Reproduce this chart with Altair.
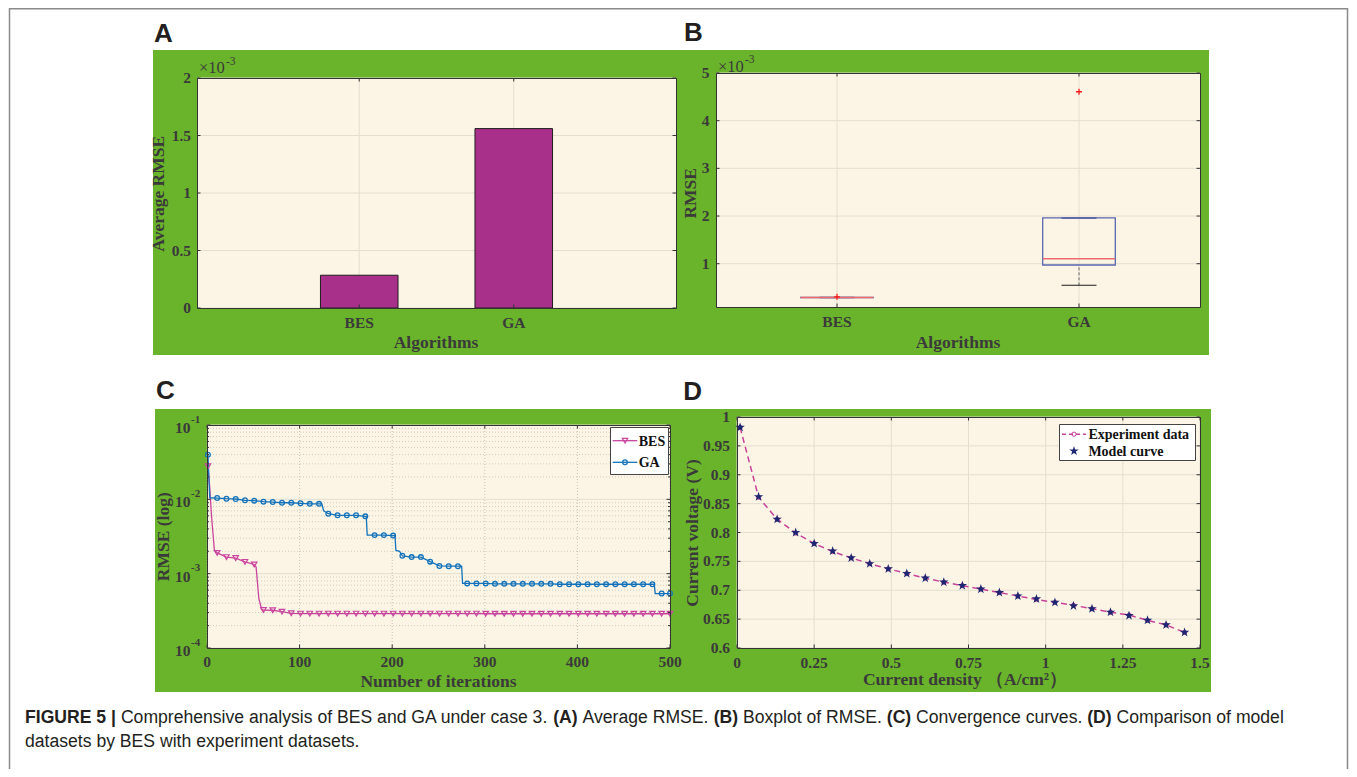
import altair as alt
import pandas as pd

# ---------------- data ----------------
algorithms = ["BES", "GA"]
average_rmse = [0.000285, 0.00156]

box_q1 = [0.000289, 0.000973]
box_median = [0.000290, 0.001105]
box_q3 = [0.000291, 0.001960]
whisker_low = [0.000289, 0.000546]
whisker_high = [0.000291, 0.001960]
outlier_algorithm = ["BES", "GA"]
outlier_rmse = [0.000305, 0.004607]

marker_iterations = [1, 11, 21, 31, 41, 51, 61, 71, 81, 91,
                     101, 111, 121, 131, 141, 151, 161, 171, 181, 191,
                     201, 211, 221, 231, 241, 251, 261, 271, 281, 291,
                     301, 311, 321, 331, 341, 351, 361, 371, 381, 391,
                     401, 411, 421, 431, 441, 451, 461, 471, 481, 491, 500]
ga_marker_rmse = [0.0398, 0.0104, 0.0102, 0.0101, 0.0097, 0.0096, 0.0093, 0.0092, 0.0090, 0.0090,
                  0.00885, 0.0087, 0.0087, 0.0064, 0.0061, 0.0061, 0.0061, 0.0059, 0.0033, 0.0033,
                  0.00325, 0.00174, 0.00167, 0.00167, 0.00145, 0.00127, 0.00126, 0.00126, 0.00074, 0.00074,
                  0.00074, 0.00073, 0.00073, 0.00073, 0.00073, 0.00073, 0.00073, 0.00073, 0.00072, 0.00072,
                  0.00072, 0.00072, 0.00072, 0.00072, 0.00072, 0.00072, 0.00072, 0.00072, 0.00072, 0.00054, 0.00054]
bes_marker_rmse = [0.0278, 0.0019, 0.00167, 0.00162, 0.00144, 0.00133, 0.000324, 0.000322, 0.000308, 0.000293,
                   0.00029, 0.00029, 0.00029, 0.00029, 0.00029, 0.00029, 0.00029, 0.00029, 0.00029, 0.00029,
                   0.00029, 0.00029, 0.00029, 0.00029, 0.00029, 0.00029, 0.00029, 0.00029, 0.00029, 0.00029,
                   0.000289, 0.000289, 0.000289, 0.000289, 0.000289, 0.000289, 0.000289, 0.000289, 0.000289, 0.000289,
                   0.000289, 0.000289, 0.000289, 0.000289, 0.000289, 0.000289, 0.000289, 0.000289, 0.000289, 0.000289,
                   0.000289]
ga_step_iterations = [3, 124, 126, 172, 173, 203, 204, 208, 275, 276, 483, 484]
ga_step_rmse = [0.0105, 0.0087, 0.0070, 0.0059, 0.0033, 0.00325, 0.00205, 0.0020, 0.00126, 0.00074, 0.00072, 0.00054]
bes_step_iterations = [3, 5, 8, 53, 56, 59]
bes_step_rmse = [0.0143, 0.0057, 0.00205, 0.00123, 0.00046, 0.00033]

current_density = [0.01, 0.07, 0.13, 0.19, 0.25, 0.31, 0.37, 0.43, 0.49, 0.55, 0.61, 0.67, 0.73,
                   0.79, 0.85, 0.91, 0.97, 1.03, 1.09, 1.15, 1.21, 1.27, 1.33, 1.39, 1.45]
experiment_voltage = [0.982, 0.861, 0.823, 0.799, 0.781, 0.767, 0.756, 0.746, 0.737, 0.729, 0.721, 0.714, 0.708,
                      0.702, 0.696, 0.690, 0.684, 0.679, 0.674, 0.668, 0.662, 0.657, 0.648, 0.640, 0.627]
model_voltage = [0.982, 0.862, 0.823, 0.800, 0.781, 0.768, 0.756, 0.746, 0.737, 0.729, 0.721, 0.714, 0.708,
                 0.702, 0.696, 0.690, 0.685, 0.679, 0.673, 0.668, 0.662, 0.656, 0.648, 0.640, 0.627]

# tick values and tick labels
a_y_ticks = [0, 0.0005, 0.001, 0.0015, 0.002]
a_y_labels = ["0", "0.5", "1", "1.5", "2"]
b_y_ticks = [0.001, 0.002, 0.003, 0.004, 0.005]
b_y_labels = ["1", "2", "3", "4", "5"]
c_x_ticks = [0, 100, 200, 300, 400, 500]
c_x_labels = ["0", "100", "200", "300", "400", "500"]
c_y_major = [0.0001, 0.001, 0.01, 0.1]
c_y_exponent = ["-4", "-3", "-2", "-1"]
c_y_minor = [0.0002, 0.0003, 0.0004, 0.0005, 0.0006, 0.0007, 0.0008, 0.0009,
             0.002, 0.003, 0.004, 0.005, 0.006, 0.007, 0.008, 0.009,
             0.02, 0.03, 0.04, 0.05, 0.06, 0.07, 0.08, 0.09]
d_x_ticks = [0, 0.25, 0.5, 0.75, 1, 1.25, 1.5]
d_x_labels = ["0", "0.25", "0.5", "0.75", "1", "1.25", "1.5"]
d_y_ticks = [0.6, 0.65, 0.7, 0.75, 0.8, 0.85, 0.9, 0.95, 1.0]
d_y_labels = ["0.6", "0.65", "0.7", "0.75", "0.8", "0.85", "0.9", "0.95", "1"]

caption_line1 = [("FIGURE 5 |", True), (" Comprehensive analysis of BES and GA under case 3. ", False),
                 ("(A)", True), (" Average RMSE. ", False), ("(B)", True), (" Boxplot of RMSE. ", False),
                 ("(C)", True), (" Convergence curves. ", False), ("(D)", True), (" Comparison of model", False)]
caption_line2 = [("datasets by BES with experiment datasets.", False)]

# ---------------- style / layout ----------------
W, H = 1341, 761
GREEN = "#6ab42b"
CREAM = "#fcf5e5"
GRID = "#e4ded0"
GRID_DOT = "#c9c2b2"
FRAME = "#333333"
AX = "#3a3a3a"
BAR = "#a8308a"
GA_C = "#1272bb"
BES_C = "#c9449e"
EXP_C = "#c8429a"
MODEL_C = "#1d2670"
BOX_C = "#5866b0"
MED_C = "#eb6c6e"
OUT_C = "#ff1a1a"
SERIF = "Liberation Serif"
SANS = "Liberation Sans"
STAR = "M0,-1L0.2245,-0.309L0.951,-0.309L0.363,0.118L0.588,0.809L0,0.382L-0.588,0.809L-0.363,0.118L-0.951,-0.309L-0.2245,-0.309Z"
PLUS = "M-1,0L1,0M0,-1L0,1"
LBL = 15.5
TTL = 17.5

PA = (189, 668, 70, 300)    # x0, x1, ytop, ybottom (canvas px)
PB = (708, 1192, 65, 299)
PC = (199, 662, 417, 640)
PD = (729, 1192, 409, 640)

ONE = pd.DataFrame({"k": [0]})


def rect(x0, y0, x1, y1, **kw):
    return alt.Chart(ONE).mark_rect(**kw).encode(
        x=alt.value(x0), x2=alt.value(x1), y=alt.value(y0), y2=alt.value(y1))


def hrule(x0, x1, y, **kw):
    return alt.Chart(ONE).mark_rule(**kw).encode(x=alt.value(x0), x2=alt.value(x1), y=alt.value(y))


def vrule(x, y0, y1, **kw):
    return alt.Chart(ONE).mark_rule(**kw).encode(x=alt.value(x), y=alt.value(y0), y2=alt.value(y1))


def text(s, x, y, size, bold=False, font=SANS, color="#231f20", align="left", baseline="alphabetic", angle=0):
    return alt.Chart(ONE).mark_text(
        text=s, font=font, fontSize=size, fontWeight="bold" if bold else "normal",
        color=color, align=align, baseline=baseline, angle=angle).encode(x=alt.value(x), y=alt.value(y))


def title_x(s, cx, cy):
    return text(s, cx, cy, TTL, bold=True, font=SERIF, color=AX, align="center", baseline="middle")


def title_y(s, cx, cy):
    return text(s, cx, cy, TTL, bold=True, font=SERIF, color=AX, align="center", baseline="middle", angle=270)


def symbol(x, y, shape, size, color, filled, sw=1.2):
    return alt.Chart(ONE).mark_point(shape=shape, size=size, color=color, filled=filled,
                                     strokeWidth=sw, opacity=1).encode(x=alt.value(x), y=alt.value(y))


def xlabels(df, field, scale, y):
    return alt.Chart(df).mark_text(align="center", baseline="alphabetic", font=SERIF, fontWeight="bold",
                                   fontSize=LBL, color=AX).encode(
        x=alt.X(field, scale=scale, axis=None), y=alt.value(y), text="lab:N")


def ylabels(df, field, scale, x):
    return alt.Chart(df).mark_text(align="right", baseline="middle", font=SERIF, fontWeight="bold",
                                   fontSize=LBL, color=AX).encode(
        y=alt.Y(field, scale=scale, axis=None), x=alt.value(x), text="lab:N")


def ticks_x(df, field, scale, P, n=3.5, **kw):
    base = alt.Chart(df).mark_rule(color=FRAME, strokeWidth=1, **kw)
    return [base.encode(x=alt.X(field, scale=scale, axis=None), y=alt.value(P[3]), y2=alt.value(P[3] - n)),
            base.encode(x=alt.X(field, scale=scale, axis=None), y=alt.value(P[2]), y2=alt.value(P[2] + n))]


def ticks_y(df, field, scale, P, n=3.5, **kw):
    base = alt.Chart(df).mark_rule(color=FRAME, strokeWidth=1, **kw)
    return [base.encode(y=alt.Y(field, scale=scale, axis=None), x=alt.value(P[0]), x2=alt.value(P[0] + n)),
            base.encode(y=alt.Y(field, scale=scale, axis=None), x=alt.value(P[1]), x2=alt.value(P[1] - n))]


# ---------------- panel A ----------------
dfA = pd.DataFrame({"algorithm": algorithms, "rmse": average_rmse, "lab": algorithms})
dfA_t = pd.DataFrame({"v": a_y_ticks, "lab": a_y_labels})
xA = alt.Scale(type="band", domain=algorithms, range=[PA[0], PA[1]], paddingInner=0.498, paddingOuter=0.799)
yA = alt.Scale(type="linear", domain=[0, 0.002], range=[PA[3], PA[2]], nice=False, zero=False)
panelA = alt.layer(
    alt.Chart(dfA_t).mark_rule(color=GRID).encode(
        y=alt.Y("v:Q", scale=yA, axis=None), x=alt.value(PA[0]), x2=alt.value(PA[1])),
    alt.Chart(dfA).mark_rule(color=GRID).encode(
        x=alt.X("algorithm:N", scale=xA, axis=None), y=alt.value(PA[2]), y2=alt.value(PA[3])),
    alt.Chart(dfA).mark_bar(color=BAR, stroke="#1e1e1e", strokeWidth=1).encode(
        x=alt.X("algorithm:N", scale=xA, axis=None),
        y=alt.Y("rmse:Q", scale=yA, axis=None)),
    *ticks_x(dfA, "algorithm:N", xA, PA),
    *ticks_y(dfA_t, "v:Q", yA, PA),
    xlabels(dfA, "algorithm:N", xA, PA[3] + 20.4),
    ylabels(dfA_t, "v:Q", yA, PA[0] - 6),
)

# ---------------- panel B ----------------
dfB = pd.DataFrame({"algorithm": algorithms, "q1": box_q1, "median": box_median, "q3": box_q3,
                    "low": whisker_low, "high": whisker_high, "lab": algorithms})
dfB_out = pd.DataFrame({"algorithm": outlier_algorithm, "rmse": outlier_rmse})
dfB_t = pd.DataFrame({"v": b_y_ticks, "lab": b_y_labels})
xB = alt.Scale(type="band", domain=algorithms, range=[PB[0], PB[1]], paddingInner=0.7, paddingOuter=0.35)
yB = alt.Scale(type="linear", domain=[0.000092, 0.005], range=[PB[3], PB[2]], nice=False, zero=False)
xBf = alt.X("algorithm:N", scale=xB, axis=None)
panelB = alt.layer(
    alt.Chart(dfB_t).mark_rule(color=GRID).encode(
        y=alt.Y("v:Q", scale=yB, axis=None), x=alt.value(PB[0]), x2=alt.value(PB[1])),
    alt.Chart(dfB).mark_rule(color=GRID).encode(x=xBf, y=alt.value(PB[2]), y2=alt.value(PB[3])),
    alt.Chart(dfB).mark_rule(color="#666666", strokeDash=[3, 2], strokeWidth=1).encode(
        x=xBf, y=alt.Y("low:Q", scale=yB, axis=None), y2="q1:Q"),
    alt.Chart(dfB).mark_rule(color="#666666", strokeDash=[3, 2], strokeWidth=1).encode(
        x=xBf, y=alt.Y("q3:Q", scale=yB, axis=None), y2="high:Q"),
    alt.Chart(dfB).mark_tick(color="#1a1a1a", thickness=1, size=35, opacity=1).encode(
        x=xBf, y=alt.Y("low:Q", scale=yB, axis=None)),
    alt.Chart(dfB).mark_tick(color="#3a4a8c", thickness=1.5, size=35, opacity=1).encode(
        x=xBf, y=alt.Y("high:Q", scale=yB, axis=None)),
    alt.Chart(dfB).mark_rect(filled=False, color=BOX_C, strokeWidth=1.3).encode(
        x=xBf, y=alt.Y("q1:Q", scale=yB, axis=None), y2="q3:Q"),
    alt.Chart(dfB).mark_rect(filled=False, color=MED_C, strokeWidth=1.6).encode(
        x=xBf, y=alt.Y("median:Q", scale=yB, axis=None), y2="median:Q"),
    alt.Chart(dfB_out).mark_point(shape=PLUS, size=36, filled=False, color=OUT_C, strokeWidth=1.3,
                                  opacity=1).encode(
        x=xBf, y=alt.Y("rmse:Q", scale=yB, axis=None)),
    *ticks_x(dfB, "algorithm:N", xB, PB),
    *ticks_y(dfB_t, "v:Q", yB, PB),
    xlabels(dfB, "algorithm:N", xB, PB[3] + 20.4),
    ylabels(dfB_t, "v:Q", yB, PB[0] - 6.5),
)

# ---------------- panel C ----------------
ga_line = sorted(zip(marker_iterations + ga_step_iterations, ga_marker_rmse + ga_step_rmse))
bes_line = sorted(zip(marker_iterations + bes_step_iterations, bes_marker_rmse + bes_step_rmse))
dfC_ga_line = pd.DataFrame(ga_line, columns=["iteration", "rmse"])
dfC_bes_line = pd.DataFrame(bes_line, columns=["iteration", "rmse"])
dfC_ga = pd.DataFrame({"iteration": marker_iterations, "rmse": ga_marker_rmse})
dfC_bes = pd.DataFrame({"iteration": marker_iterations, "rmse": bes_marker_rmse})
dfC_xt = pd.DataFrame({"v": c_x_ticks, "lab": c_x_labels})
dfC_ym = pd.DataFrame({"v": c_y_major, "e": c_y_exponent})
dfC_yn = pd.DataFrame({"v": c_y_minor})
xC = alt.Scale(type="linear", domain=[0, 500], range=[PC[0], PC[1]], nice=False, zero=False)
yC = alt.Scale(type="log", domain=[0.0001, 0.1], range=[PC[3], PC[2]], nice=False)
panelC = alt.layer(
    alt.Chart(dfC_yn).mark_rule(color=GRID_DOT, strokeDash=[1, 2], strokeWidth=0.8).encode(
        y=alt.Y("v:Q", scale=yC, axis=None), x=alt.value(PC[0]), x2=alt.value(PC[1])),
    alt.Chart(dfC_ym).mark_rule(color=GRID).encode(
        y=alt.Y("v:Q", scale=yC, axis=None), x=alt.value(PC[0]), x2=alt.value(PC[1])),
    alt.Chart(dfC_xt).mark_rule(color=GRID_DOT, strokeDash=[1, 2]).encode(
        x=alt.X("v:Q", scale=xC, axis=None), y=alt.value(PC[2]), y2=alt.value(PC[3])),
    alt.Chart(dfC_bes_line).mark_line(color=BES_C, strokeWidth=1.3).encode(
        x=alt.X("iteration:Q", scale=xC, axis=None), y=alt.Y("rmse:Q", scale=yC, axis=None)),
    alt.Chart(dfC_ga_line).mark_line(color=GA_C, strokeWidth=1.3).encode(
        x=alt.X("iteration:Q", scale=xC, axis=None), y=alt.Y("rmse:Q", scale=yC, axis=None)),
    alt.Chart(dfC_bes).mark_point(shape="triangle-down", size=30, filled=False, color=BES_C,
                                  strokeWidth=1.2, opacity=1).encode(
        x=alt.X("iteration:Q", scale=xC, axis=None), y=alt.Y("rmse:Q", scale=yC, axis=None)),
    alt.Chart(dfC_ga).mark_point(shape="circle", size=22, filled=False, color=GA_C,
                                 strokeWidth=1.3, opacity=1).encode(
        x=alt.X("iteration:Q", scale=xC, axis=None), y=alt.Y("rmse:Q", scale=yC, axis=None)),
    alt.Chart(dfC_ym).mark_text(text="10", align="right", baseline="middle", dy=3, font=SERIF,
                                fontWeight="bold", fontSize=LBL, color=AX).encode(
        y=alt.Y("v:Q", scale=yC, axis=None), x=alt.value(PC[0] - 16.5)),
    alt.Chart(dfC_ym).mark_text(align="left", baseline="middle", dy=-5.5, font=SERIF,
                                fontWeight="bold", fontSize=11, color=AX).encode(
        y=alt.Y("v:Q", scale=yC, axis=None), x=alt.value(PC[0] - 16), text="e:N"),
    *ticks_x(dfC_xt, "v:Q", xC, PC),
    *ticks_y(dfC_ym, "v:Q", yC, PC),
    *ticks_y(dfC_yn, "v:Q", yC, PC, n=2),
    xlabels(dfC_xt, "v:Q", xC, PC[3] + 19.4),
)

# ---------------- panel D ----------------
dfD = pd.DataFrame({"density": current_density, "experiment": experiment_voltage, "model": model_voltage})
dfD_xt = pd.DataFrame({"v": d_x_ticks, "lab": d_x_labels})
dfD_yt = pd.DataFrame({"v": d_y_ticks, "lab": d_y_labels})
xD = alt.Scale(type="linear", domain=[0, 1.5], range=[PD[0], PD[1]], nice=False, zero=False)
yD = alt.Scale(type="linear", domain=[0.6, 1.0], range=[PD[3], PD[2]], nice=False, zero=False)
panelD = alt.layer(
    alt.Chart(dfD_xt).mark_rule(color=GRID).encode(
        x=alt.X("v:Q", scale=xD, axis=None), y=alt.value(PD[2]), y2=alt.value(PD[3])),
    alt.Chart(dfD_yt).mark_rule(color=GRID).encode(
        y=alt.Y("v:Q", scale=yD, axis=None), x=alt.value(PD[0]), x2=alt.value(PD[1])),
    alt.Chart(dfD).mark_line(color=EXP_C, strokeDash=[6, 4], strokeWidth=1.5).encode(
        x=alt.X("density:Q", scale=xD, axis=None), y=alt.Y("experiment:Q", scale=yD, axis=None)),
    alt.Chart(dfD).mark_point(shape="circle", size=18, filled=False, color=EXP_C, strokeWidth=1,
                              opacity=1).encode(
        x=alt.X("density:Q", scale=xD, axis=None), y=alt.Y("experiment:Q", scale=yD, axis=None)),
    alt.Chart(dfD).mark_point(shape=STAR, size=100, filled=True, color=MODEL_C, opacity=1).encode(
        x=alt.X("density:Q", scale=xD, axis=None), y=alt.Y("model:Q", scale=yD, axis=None)),
    *ticks_x(dfD_xt, "v:Q", xD, PD),
    *ticks_y(dfD_yt, "v:Q", yD, PD),
    xlabels(dfD_xt, "v:Q", xD, PD[3] + 20.4),
    ylabels(dfD_yt, "v:Q", yD, PD[0] - 7),
)

# ---------------- decorations ----------------
background = [
    rect(145, 42, 1201, 347, color=GREEN),
    rect(147, 401, 1203, 684, color=GREEN),
]
for P in (PA, PB, PC, PD):
    background.append(rect(P[0], P[2], P[1], P[3], color=CREAM))

foreground = []
for P in (PA, PB, PC, PD):
    foreground.append(rect(P[0] + 0.5, P[2] + 0.5, P[1] + 0.5, P[3] + 0.5,
                           filled=False, color=FRAME, strokeWidth=1))

# axis titles
foreground += [
    title_y("Average RMSE", 151.3, 185.8), title_x("Algorithms", 428, 335.3),
    title_y("RMSE", 682.7, 185.3), title_x("Algorithms", 950, 334.7),
    title_y("RMSE (log)", 156, 528.7), title_x("Number of iterations", 430.5, 673.7),
    title_y("Current voltage (V)", 684.8, 525), title_x("Current density （A/cm²）", 957, 672),
]

# x10^-3 exponent labels
foreground += [
    text("×10", 191, 65.3, 16.5, font=SERIF, color=AX),
    text("-3", 218, 57, 11.5, font=SERIF, color=AX),
    text("×10", 710, 63.7, 16.5, font=SERIF, color=AX),
    text("-3", 737, 55, 11.5, font=SERIF, color=AX),
]

# legend C
foreground += [
    rect(602.5, 419.5, 660.5, 466.5, color="white", stroke="#444444", strokeWidth=1),
    hrule(604.7, 629.3, 432.7, color=BES_C, strokeWidth=1.3),
    symbol(617, 432.7, "triangle-down", 30, BES_C, False),
    text("BES", 630.7, 437.7, 14, bold=True, font=SERIF, color="#111111"),
    hrule(604.7, 629.3, 454.3, color=GA_C, strokeWidth=1.3),
    symbol(617, 454.3, "circle", 22, GA_C, False, 1.3),
    text("GA", 630.7, 459.3, 14, bold=True, font=SERIF, color="#111111"),
]

# legend D
foreground += [
    rect(1051.5, 416.5, 1187.5, 452.5, color="white", stroke="#444444", strokeWidth=1),
    hrule(1054, 1078, 426.2, color=EXP_C, strokeDash=[4, 3], strokeWidth=1.5),
    symbol(1066, 426.2, "circle", 18, EXP_C, False, 1),
    text("Experiment data", 1080.4, 431.2, 14, bold=True, font=SERIF, color="#111111"),
    symbol(1066, 443, STAR, 100, MODEL_C, True),
    text("Model curve", 1080.4, 448, 14, bold=True, font=SERIF, color="#111111"),
]

# panel letters
foreground += [
    text("A", 146, 33.7, 26, bold=True),
    text("B", 676, 32.7, 26, bold=True),
    text("C", 148, 391, 26, bold=True),
    text("D", 675.3, 392, 26, bold=True),
]

# caption (Arial / Liberation Sans advance widths, per em)
AR = {" ": .278, "a": .556, "b": .556, "c": .5, "d": .556, "e": .556, "f": .278, "g": .556, "h": .556,
      "i": .222, "j": .222, "k": .5, "l": .222, "m": .833, "n": .556, "o": .556, "p": .556, "q": .556,
      "r": .333, "s": .5, "t": .278, "u": .556, "v": .5, "w": .722, "x": .5, "y": .5, "z": .5,
      "A": .667, "B": .667, "C": .722, "D": .722, "E": .667, "G": .778, "M": .833, "R": .722, "S": .667,
      ".": .278, "(": .333, ")": .333, "3": .556, "5": .556, "|": .26}
ARB = {" ": .278, "F": .611, "I": .278, "G": .778, "U": .722, "R": .722, "E": .667, "5": .556,
       "|": .28, "(": .333, ")": .333, "A": .722, "B": .722, "C": .722, "D": .722}


def seg_w(s, bold):
    table = ARB if bold else AR
    return sum(table.get(ch, .556) for ch in s)


CAP_F = 17.6
for line, base_y in ((caption_line1, 715), (caption_line2, 739)):
    xpos = 17.0
    for s, b in line:
        lead = len(s) - len(s.lstrip(" "))
        foreground.append(text(s.strip(), xpos + seg_w(s[:lead], b) * CAP_F, base_y, CAP_F, bold=b))
        xpos += seg_w(s, b) * CAP_F

# outer frame
foreground += [
    vrule(1.5, 0, H, color="#8a8a8a", strokeWidth=1.5),
    hrule(1.5, 1339.5, 0.75, color="#8a8a8a", strokeWidth=1.5),
    vrule(1339.5, 0, H, color="#8a8a8a", strokeWidth=1.5),
]

chart = alt.layer(*background, panelA, panelB, panelC, panelD, *foreground).resolve_scale(
    x="independent", y="independent").properties(
    width=W, height=H, padding=0, background="white",
    autosize=alt.AutoSizeParams(type="none")).configure_view(strokeWidth=0)

chart.save("out.html", embed_options={"renderer": "svg", "actions": False})
